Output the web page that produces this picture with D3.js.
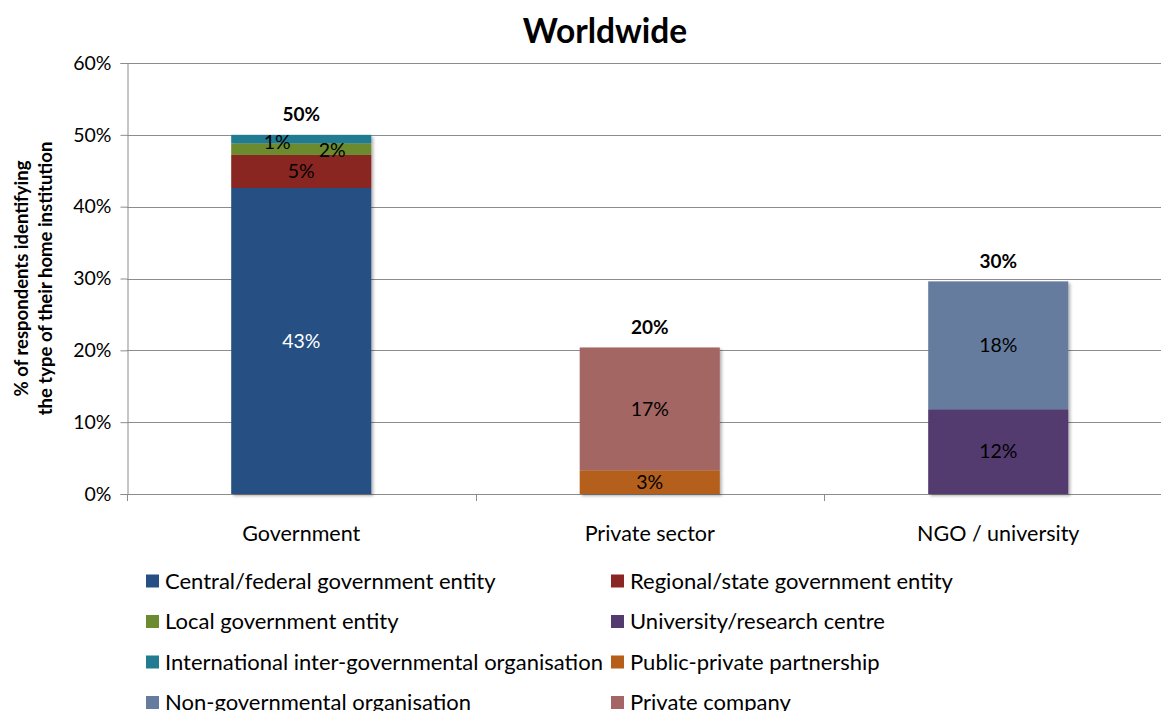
<!DOCTYPE html>
<html>
<head>
<meta charset="utf-8">
<script src="https://cdn.jsdelivr.net/npm/d3@7"></script>
<style>
  html, body { margin: 0; padding: 0; background: #fff; }
  svg { display: block; font-family: Lato, "Open Sans", sans-serif; }
</style>
</head>
<body>
<svg id="chart" width="1161" height="711"></svg>
<script>
// Institution groups along the x axis
const categories = ["Government", "Private sector", "NGO / university"];

// Institution types, in legend / stacking order
const seriesNames = [
  "Central/federal government entity",
  "Regional/state government entity",
  "Local government entity",
  "University/research centre",
  "International inter-governmental organisation",
  "Public-private partnership",
  "Non-governmental organisation",
  "Private company"
];

// Share of respondents (%) for each type, per group
const centralFederal   = [42.6, 0, 0];
const regionalState    = [4.6, 0, 0];
const localGov         = [1.6, 0, 0];
const universityRes    = [0, 0, 11.8];
const interGov         = [1.2, 0, 0];
const publicPrivate    = [0, 3.3, 0];
const nonGovernmental  = [0, 0, 17.8];
const privateCompany   = [0, 17.1, 0];

const yTicks = [0, 10, 20, 30, 40, 50, 60];

const seriesValues = [centralFederal, regionalState, localGov, universityRes,
                      interGov, publicPrivate, nonGovernmental, privateCompany];

const colors = ["#264f84", "#8a2624", "#6c8a2f", "#533a6f",
                "#237b91", "#b55f1a", "#667c9f", "#a46664"];

// Build rows for d3.stack
const rows = categories.map((c, i) => {
  const r = { category: c };
  seriesNames.forEach((s, k) => { r[s] = seriesValues[k][i]; });
  return r;
});

const svg = d3.select("#chart");
const W = 1161, H = 711;

const plot = { left: 127, top: 63, bottom: 494 };
const step = 348.5;
plot.right = plot.left + step * categories.length;

const x = d3.scaleBand()
  .domain(categories)
  .range([plot.left, plot.right])
  .paddingInner(0.598)
  .paddingOuter(0.299);

const y = d3.scaleLinear().domain([0, 60]).range([plot.bottom, plot.top]);

const color = d3.scaleOrdinal().domain(seriesNames).range(colors);

// drop shadow for the bars
const defs = svg.append("defs");
const f = defs.append("filter").attr("id", "shadow")
  .attr("x", "-10%").attr("y", "-10%").attr("width", "130%").attr("height", "130%");
f.append("feDropShadow").attr("dx", 2).attr("dy", 2)
  .attr("stdDeviation", 1.5).attr("flood-color", "#000").attr("flood-opacity", 0.3);

// Title
svg.append("text")
  .attr("x", 605).attr("y", 43)
  .attr("text-anchor", "middle")
  .attr("font-size", 33.5).attr("font-weight", "bold")
  .attr("fill", "#000")
  .text("Worldwide");

// Gridlines
svg.append("g")
  .selectAll("line")
  .data(yTicks.filter(d => d > 0))
  .join("line")
  .attr("x1", plot.left).attr("x2", W)
  .attr("y1", d => Math.round(y(d)) + 0.5).attr("y2", d => Math.round(y(d)) + 0.5)
  .attr("stroke", "#8c8c8c").attr("stroke-width", 1);

// Y axis
const yAxis = svg.append("g")
  .attr("transform", `translate(${plot.left + 0.5},0)`)
  .call(d3.axisLeft(y).tickValues(yTicks).tickSize(7).tickPadding(9)
        .tickFormat(d => d + "%"));
yAxis.select(".domain").attr("stroke", "#8c8c8c");
yAxis.selectAll(".tick line").attr("stroke", "#8c8c8c");
yAxis.selectAll(".tick text")
  .attr("font-family", "Lato, sans-serif")
  .attr("font-size", 19.5).attr("fill", "#000");

// Y axis title (two lines)
const yTitle = svg.append("text")
  .attr("transform", `translate(0,${(plot.top + plot.bottom) / 2}) rotate(-90)`)
  .attr("text-anchor", "middle")
  .attr("font-size", 18.5).attr("font-weight", "bold").attr("fill", "#000");
yTitle.append("tspan").attr("x", 0).attr("y", 28).text("% of respondents identifying");
yTitle.append("tspan").attr("x", 0).attr("y", 52).text("the type of their home institution");

// X axis line and category separators
const xAxis = svg.append("g");
xAxis.append("line")
  .attr("x1", plot.left).attr("x2", W)
  .attr("y1", plot.bottom + 0.5).attr("y2", plot.bottom + 0.5)
  .attr("stroke", "#8c8c8c");
xAxis.selectAll("line.sep")
  .data(d3.range(categories.length + 1))
  .join("line").attr("class", "sep")
  .attr("x1", i => Math.round(plot.left + i * x.step()) + 0.5)
  .attr("x2", i => Math.round(plot.left + i * x.step()) + 0.5)
  .attr("y1", plot.bottom).attr("y2", plot.bottom + 7)
  .attr("stroke", "#8c8c8c");
xAxis.selectAll("text")
  .data(categories)
  .join("text")
  .attr("x", d => x(d) + x.bandwidth() / 2)
  .attr("y", 533)
  .attr("dy", "0.35em")
  .attr("text-anchor", "middle")
  .attr("font-size", 21.5).attr("fill", "#000")
  .text(d => d);

// Stacked bars
const stack = d3.stack().keys(seriesNames);
const layers = stack(rows);
const pct = v => Math.round(v) + "%";

const barG = svg.append("g").attr("filter", "url(#shadow)");
layers.forEach(layer => {
  barG.selectAll(null)
    .data(layer.filter(d => d[1] - d[0] > 0))
    .join("rect")
    .attr("x", d => x(d.data.category))
    .attr("width", x.bandwidth())
    .attr("y", d => y(d[1]))
    .attr("height", d => y(d[0]) - y(d[1]))
    .attr("fill", color(layer.key));
});

// Segment value labels; the two thinnest Government slices are nudged sideways
const nudge = {
  "Local government entity": { dx: 31, dy: 1 },
  "International inter-governmental organisation": { dx: -24, dy: 3 }
};
layers.forEach(layer => {
  const n = nudge[layer.key] || { dx: 0, dy: 0 };
  svg.append("g").selectAll("text")
    .data(layer.filter(d => d[1] - d[0] > 0))
    .join("text")
    .attr("x", d => x(d.data.category) + x.bandwidth() / 2 + n.dx)
    .attr("y", d => (y(d[0]) + y(d[1])) / 2 + n.dy)
    .attr("dy", "0.35em")
    .attr("text-anchor", "middle")
    .attr("font-size", 19.5)
    .attr("fill", layer.key === seriesNames[0] ? "#fff" : "#000")
    .text(d => pct(d[1] - d[0]));
});

// Totals above each bar
const totals = rows.map(r => ({
  category: r.category,
  total: d3.sum(seriesNames, s => r[s])
}));
svg.append("g").selectAll("text")
  .data(totals)
  .join("text")
  .attr("x", d => x(d.category) + x.bandwidth() / 2)
  .attr("y", d => y(d.total) - 20)
  .attr("dy", "0.35em")
  .attr("text-anchor", "middle")
  .attr("font-size", 19).attr("font-weight", "bold").attr("fill", "#000")
  .text(d => pct(d.total));

// Legend: two columns
const legendCols = [146, 611];
const legendRow0 = 581, legendRowStep = 40.5;
const legend = svg.append("g").selectAll("g")
  .data(seriesNames)
  .join("g")
  .attr("transform", (d, i) =>
    `translate(${legendCols[i % 2]},${legendRow0 + Math.floor(i / 2) * legendRowStep})`);
legend.append("rect")
  .attr("x", 0).attr("y", -6.5).attr("width", 13).attr("height", 13)
  .attr("fill", d => color(d));
legend.append("text")
  .attr("x", 19).attr("y", 0).attr("dy", "0.35em")
  .attr("font-size", 22).attr("fill", "#000")
  .text(d => d);
</script>
</body>
</html>
